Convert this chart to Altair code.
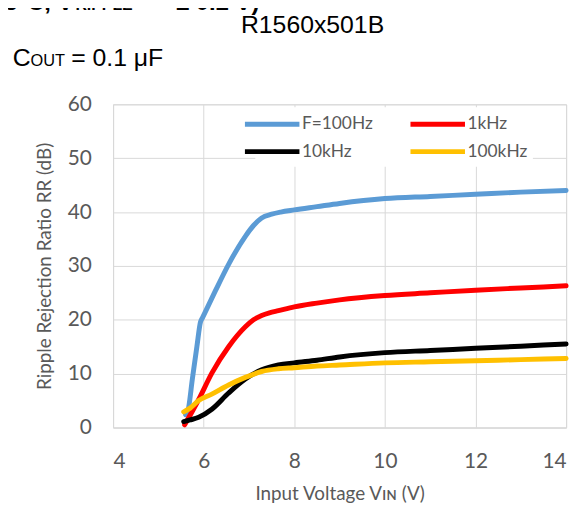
import altair as alt
import pandas as pd

# ---- data ----
series_names = ["F=100Hz", "1kHz", "10kHz", "100kHz"]
series_colors = ["#5b9bd5", "#ff0000", "#000000", "#ffc000"]

vin_100hz = [5.6, 5.65, 5.75, 5.85, 5.93, 5.97, 6.26, 6.55, 6.92, 7.1, 7.28, 7.5, 7.7, 8.0, 8.5, 9.0, 10.0, 11.0, 12.0, 13.0, 14.0]
rr_100hz = [2.4, 3.0, 9.0, 15.0, 19.6, 20.3, 25.4, 30.3, 35.5, 37.5, 38.9, 39.6, 40.0, 40.4, 41.0, 41.6, 42.5, 42.9, 43.3, 43.7, 44.0]

vin_1khz = [5.58, 5.89, 6.18, 6.55, 6.92, 7.1, 7.28, 7.45, 7.65, 8.0, 8.5, 9.0, 10.0, 11.0, 12.0, 13.0, 14.0]
rr_1khz = [0.5, 5.2, 10.1, 15.0, 18.7, 20.0, 20.8, 21.3, 21.7, 22.4, 23.1, 23.7, 24.5, 25.0, 25.5, 25.9, 26.3]

vin_10khz = [5.56, 5.7, 5.89, 6.18, 6.55, 6.92, 7.28, 7.65, 8.0, 8.5, 9.0, 10.0, 11.0, 12.0, 13.0, 14.0]
rr_10khz = [1.1, 1.4, 1.9, 3.4, 6.4, 9.0, 10.7, 11.6, 12.0, 12.5, 13.1, 13.9, 14.3, 14.7, 15.1, 15.5]

vin_100khz = [5.56, 5.7, 5.89, 6.18, 6.55, 6.92, 7.28, 7.65, 8.0, 8.5, 9.0, 10.0, 11.0, 12.0, 13.0, 14.0]
rr_100khz = [2.9, 3.6, 5.0, 6.2, 7.9, 9.3, 10.4, 10.9, 11.1, 11.4, 11.6, 12.0, 12.2, 12.4, 12.6, 12.8]

x_ticks = [4, 6, 8, 10, 12, 14]
y_ticks = [0, 10, 20, 30, 40, 50, 60]

chip_label = "R1560x501B"
cout_main = "C"
cout_sub = "OUT"
cout_rest = "= 0.1 μF"
cond_a = "(Ta = 25°C, V"
cond_b = "RIPPLE"
cond_c = "= ± 0.2 V)"

# ---- build table ----
rows = []
for name, xs, ys in zip(series_names,
                        [vin_100hz, vin_1khz, vin_10khz, vin_100khz],
                        [rr_100hz, rr_1khz, rr_10khz, rr_100khz]):
    for i, (xv, yv) in enumerate(zip(xs, ys)):
        rows.append({"series": name, "vin": xv, "rr": yv, "idx": i})
df = pd.DataFrame(rows)

FONT = "Lato"
GRAY = "#595959"
GRID = "#d9d9d9"

lines = alt.Chart(df).mark_line(
    strokeWidth=5, interpolate="monotone", strokeCap="round", strokeJoin="round"
).encode(
    x=alt.X("vin:Q",
            scale=alt.Scale(domain=[4, 14], nice=False, zero=False),
            axis=alt.Axis(values=x_ticks, title="Input Voltage V\u026a\u0274 (V)",
                          labelPadding=23, titlePadding=14)),
    y=alt.Y("rr:Q",
            scale=alt.Scale(domain=[0, 60], nice=False),
            axis=alt.Axis(values=y_ticks, title="Ripple Rejection Ratio RR (dB)",
                          labelPadding=22, titlePadding=13)),
    color=alt.Color("series:N",
                    scale=alt.Scale(domain=series_names, range=series_colors),
                    sort=series_names,
                    legend=alt.Legend(title=None, orient="none", legendX=143.5, legendY=3,
                                      direction="horizontal", columns=2,
                                      symbolType="M-3,0H3", symbolSize=336,
                                      symbolStrokeWidth=5, labelFont=FONT,
                                      labelFontSize=17.5, labelColor=GRAY,
                                      labelOffset=18, fillColor="white", padding=5,
                                      columnPadding=27, rowPadding=5.7)),
    detail="series:N",
    order="idx:Q",
)


def txt(s, x, y, size, bold=False, font="Liberation Sans", align="left"):
    return alt.Chart(pd.DataFrame({"t": [s]})).mark_text(
        align=align, baseline="alphabetic", font=font, fontSize=size,
        fontWeight="bold" if bold else "normal", color="black"
    ).encode(x=alt.value(x), y=alt.value(y), text="t:N")


texts = [
    txt(chip_label, 129, -72.3, 25),
    txt(cout_main, -101.3, -38.7, 25),
    txt(cout_sub, -83.3, -38.7, 16.5),
    txt(cout_rest, -42.3, -38.7, 25),
    txt(cond_a, -40, -95, 24, bold=True, align="right"),
    txt(cond_b, -38, -95, 16, bold=True),
    txt(cond_c, 43, -95, 24, bold=True),
]

chart = alt.layer(lines, *texts).properties(
    width=457, height=326,
    padding={"left": 106, "top": 95, "right": 12, "bottom": 76},
    autosize=alt.AutoSizeParams(type="none"),
).configure_view(
    stroke=GRID, strokeWidth=1
).configure_axis(
    labelFont=FONT, labelFontSize=21, labelColor=GRAY,
    titleFont=FONT, titleFontSize=19, titleColor=GRAY, titleFontWeight="normal",
    ticks=False, tickSize=0, domainColor=GRID, gridColor=GRID, gridWidth=1,
)

chart.save("out.html", embed_options={"renderer": "svg", "actions": False})
